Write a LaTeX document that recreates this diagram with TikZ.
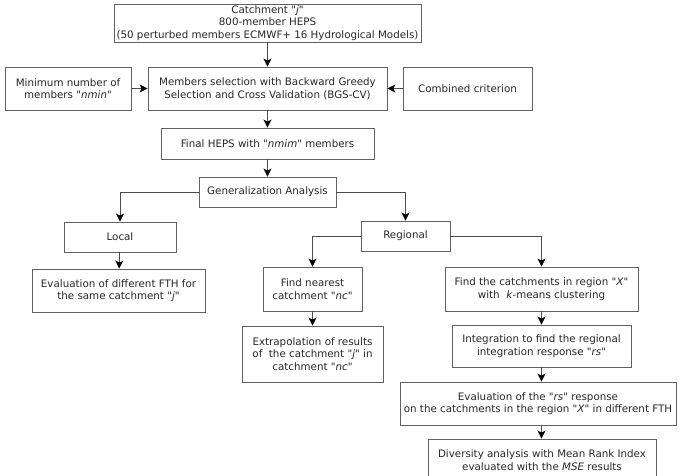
\documentclass[tikz,border=0pt]{standalone}
\usepackage{fontspec}
\setmainfont{DejaVu Sans}[Ligatures=TeXOff]
\usetikzlibrary{arrows.meta}
\tikzset{
  box/.style={draw=black!62, line width=0.9pt, align=center, inner sep=0pt,
    font=\fontsize{10.3}{12.6}\selectfont, text=black!85},
  conn/.style={draw=black!70, line width=0.9pt, -{Stealth[length=8pt,width=8pt,inset=2pt,color=black]}},
}
\begin{document}
\begin{tikzpicture}[x=1pt,y=-1pt]
\useasboundingbox (0,0) rectangle (696,476);
\node[box, minimum width=307pt, minimum height=38pt] (top) at (267.5,23) {Catchment "\textit{j}"\\800-member HEPS\\(50 perturbed members ECMWF+ 16 Hydrological Models)};
\node[box, minimum width=239pt, minimum height=43pt] (sel) at (267.5,88.5) {Members selection with Backward Greedy\\Selection and Cross Validation (BGS-CV)};
\node[box, minimum width=126pt, minimum height=43pt] (min) at (68,88.5) {Minimum number of\\members "\textit{nmin}"};
\node[box, minimum width=129pt, minimum height=43pt] (comb) at (467.5,88.5) {Combined criterion};
\node[box, minimum width=213pt, minimum height=31pt] (final) at (267.5,143.5) {Final HEPS with "\textit{nmim}" members};
\node[box, minimum width=137pt, minimum height=30pt] (gen) at (267.5,192) {Generalization Analysis};
\node[box, minimum width=112pt, minimum height=30pt] (local) at (120,237) {Local};
\node[box, minimum width=173pt, minimum height=43pt] (evalL) at (118.5,290.5) {Evaluation of different FTH for\\the same catchment "\textit{j}"};
\node[box, minimum width=89pt, minimum height=30pt] (reg) at (405.5,236) {Regional};
\node[box, minimum width=99pt, minimum height=44pt] (near) at (312.5,289) {Find nearest\\catchment "\textit{nc}"};
\node[box, minimum width=141pt, minimum height=56pt] (extra) at (312.5,354) {Extrapolation of results\\of\ \ the catchment "\textit{j}" in\\catchment "\textit{nc}"};
\node[box, minimum width=193pt, minimum height=44pt] (findc) at (541.5,289) {Find the catchments in region "\textit{X}"\\with\ \ \textit{k}-means clustering};
\node[box, minimum width=179pt, minimum height=42pt] (integ) at (541.5,346) {Integration to find the regional\\integration response "\textit{rs}"};
\node[box, minimum width=276pt, minimum height=43pt] (evrs) at (538,403.5) {Evaluation of the "\textit{rs}" response\\on the catchments in the region "\textit{X}" in different FTH};
\node[box, minimum width=228pt, minimum height=42pt] (div) at (542,460) {Diversity analysis with Mean Rank Index\\evaluated with the \textit{MSE} results};
\coordinate (ea) at (integ.south |- evrs.north);
\coordinate (eb) at (integ.south |- evrs.south);
\coordinate (ec) at (integ.south |- div.north);
\draw[conn] (top) -- (sel);
\draw[conn] (min) -- (sel);
\draw[conn] (comb) -- (sel);
\draw[conn] (sel) -- (final);
\draw[conn] (final) -- (gen);
\draw[conn] (gen.west) -| (local.north);
\draw[conn] (gen.east) -| (reg.north);
\draw[conn] (local) -- (evalL);
\draw[conn] (reg.west) -| (near.north);
\draw[conn] (reg.east) -| (findc.north);
\draw[conn] (near) -- (extra);
\draw[conn] (findc) -- (integ);
\draw[conn] (integ.south) -- (ea);
\draw[conn] (eb) -- (ec);
\end{tikzpicture}
\end{document}
